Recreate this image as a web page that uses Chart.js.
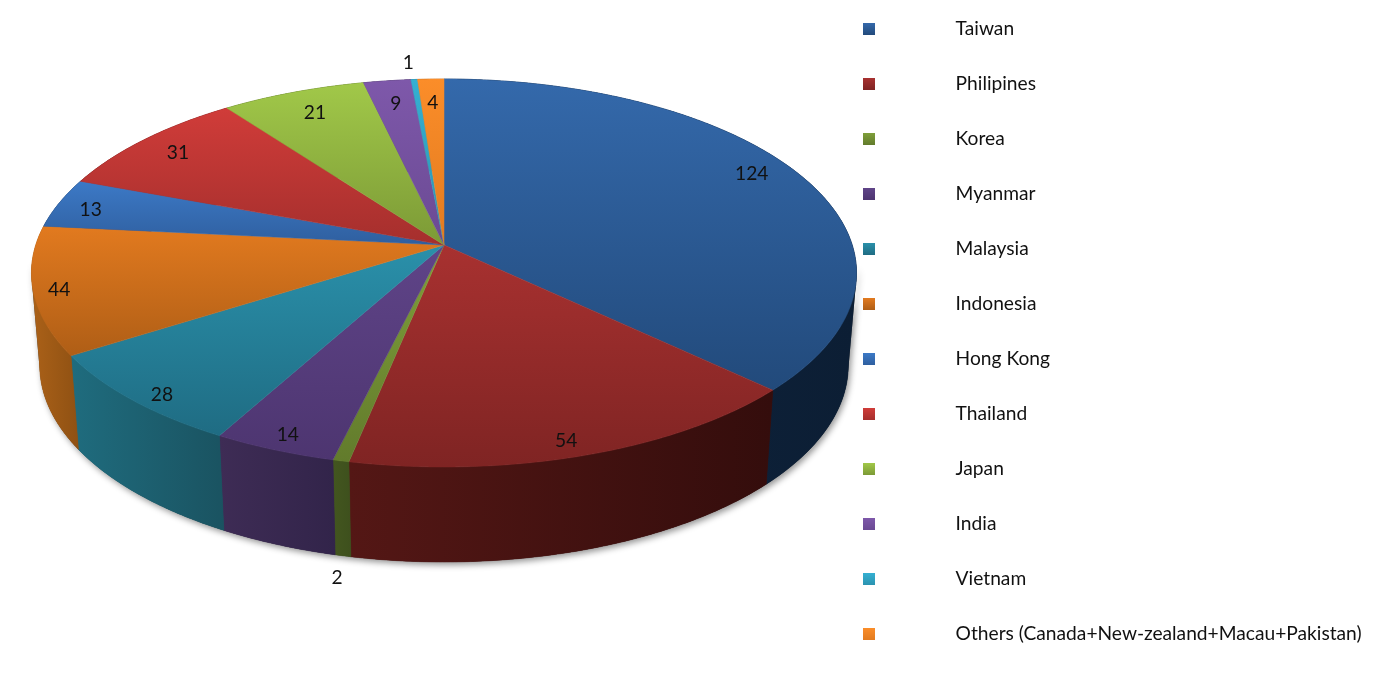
<!DOCTYPE html>
<html><head><meta charset="utf-8">
<style>html,body{margin:0;padding:0;background:#fff;overflow:hidden}#wrap{width:1400px;height:679px;position:relative}</style>
<script src="https://cdn.jsdelivr.net/npm/chart.js@4"></script>
</head><body><div id="wrap"><canvas id="c" width="1400" height="679"></canvas></div>
<script>
const categories = ['Taiwan','Philipines','Korea','Myanmar','Malaysia','Indonesia','Hong Kong','Thailand','Japan','India','Vietnam','Others (Canada+New-zealand+Macau+Pakistan)'];
const values = [124,54,2,14,28,44,13,31,21,9,1,4];
const topLight = ['#3469ab','#a83130','#7f9f3a','#5f4488','#2a90aa','#e27a1f','#3c79c6','#d03c39','#a1c849','#7e58aa','#35b0d2','#fb8d29'];
const topDark  = ['#224a7b','#7f2423','#627b2c','#4d3570','#1f6c83','#af5e16','#2f5f9f','#a52f2d','#7c9a36','#6a4a93','#2b93b0','#e27b20'];
const wallLight = ['#0f2540','#541715','#43561f','#3e2c55','#1f6c7e','#ab6118','#1f3f66','#6a1b1a','#4f6522','#3d2c55','#1c6478','#a85f18'];
const wallDark  = ['#0c1e34','#340d0c','#3e501d','#32244a','#1a5361','#8f5113','#1f3f66','#6a1b1a','#4f6522','#3d2c55','#1c6478','#a85f18'];
const legendFont = 'Lato';
const fontSize = 19.2;

// view of the tilted disc (top face, perspective projection of the unit circle)
const view = {cx:444, cy:245, a:189.96, b:408.2, k:-0.1443, depth:92, shrink:0.98};
// Small correction between data angle and drawn angle in the 3D view (degrees)
const angleIn  = [0,64.7,129.4,157.6,185.7,187.8,202.4,217,231.7,277.6,291,323.5,345.4,354.8,360];
const angleOut = [0,63,133.5,163.7,191.5,193.5,208.7,221.5,237.5,275.8,290.5,323.6,347,354.7,360];
function warp(d){
  for(let i=1;i<angleIn.length;i++){
    if(d<=angleIn[i]){const t=(d-angleIn[i-1])/(angleIn[i]-angleIn[i-1]);return angleOut[i-1]+t*(angleOut[i]-angleOut[i-1]);}
  }
  return d;
}
function proj(deg,r,lower){
  const th=warp(deg)*Math.PI/180, u=Math.sin(th)*r, v=-Math.cos(th)*r;
  const w=1+view.k*v; let x=view.b*u/w, y=view.a*v/w;
  if(lower){x*=view.shrink; y=y+view.depth+(v>0?v*3:0);}
  return [view.cx+x, view.cy+y];
}
const toDeg = a => ((a+Math.PI/2)*180/Math.PI);

const pie3d = {
  id:'pie3d',
  beforeLayout(chart){
    const lg=chart.legend;
    if(lg && !lg._tall){
      lg._tall=true;
      const orig=lg._fitCols;
      lg._fitCols=function(){const m=this.maxHeight;this.maxHeight=2000;const r=orig.apply(this,arguments);this.maxHeight=m;return r;};
    }
  },
  afterLayout(chart){
    const lg=chart.legend, pad=lg.options.labels.padding;
    lg.left=863-pad; lg.top=29-fontSize/2-pad; lg.bottom=2000;
  },
  beforeDatasetsDraw(chart){
    const ctx=chart.ctx, arcs=chart.getDatasetMeta(0).data;
    const slices=arcs.map((arc,i)=>{const p=arc.getProps(['startAngle','endAngle'],true);return {i,s:toDeg(p.startAngle),e:toDeg(p.endAngle)};});
    const rim=(s,e,lower)=>{const pts=[];const n=Math.max(2,Math.ceil((e-s)/0.5));for(let j=0;j<=n;j++)pts.push(proj(s+(e-s)*j/n,1,lower));return pts;};
    const sweep=(s,e)=>{ // every upright strip of the wall, all wound the same way, so the silhouette is filled
      const u=rim(s,e,false), l=rim(s,e,true);
      ctx.beginPath();
      for(let j=0;j<u.length-1;j++){
        let q=[u[j],u[j+1],l[j+1],l[j]], area=0;
        q.forEach((a,n)=>{const b=q[(n+1)%4];area+=a[0]*b[1]-b[0]*a[1];});
        if(area<0) q=q.reverse();
        q.forEach((a,n)=>n?ctx.lineTo(a[0],a[1]):ctx.moveTo(a[0],a[1]));
        ctx.closePath();
      }
    };
    // soft shadow under the front of the disc
    ctx.save();
    ctx.shadowColor='rgba(0,0,0,0.42)';ctx.shadowBlur=6;ctx.shadowOffsetX=2;ctx.shadowOffsetY=3;
    ctx.fillStyle='#444';sweep(95,265);ctx.fill();
    ctx.restore();
    // walls
    slices.forEach(sl=>{
      const up=rim(sl.s,sl.e,false), lo=rim(sl.s,sl.e,true).reverse();
      const all=up.concat(lo), xs=all.map(p=>p[0]);
      const g=ctx.createLinearGradient(Math.min(...xs),0,Math.max(...xs),0);
      g.addColorStop(0,wallLight[sl.i]);
      g.addColorStop(1,wallDark[sl.i]);
      ctx.fillStyle=g;ctx.strokeStyle=g;ctx.lineWidth=0.5;
      ctx.beginPath();all.forEach((p,j)=>j?ctx.lineTo(p[0],p[1]):ctx.moveTo(p[0],p[1]));ctx.closePath();ctx.fill();ctx.stroke();
      sweep(sl.s,sl.e);ctx.fill();
    });
    // top faces
    slices.forEach(sl=>{
      const pts=rim(sl.s,sl.e,false);
      const c=[view.cx,view.cy], ys=pts.map(p=>p[1]).concat(c[1]);
      const g=ctx.createLinearGradient(0,Math.min(...ys),0,Math.max(...ys));
      g.addColorStop(0,topLight[sl.i]);g.addColorStop(1,topDark[sl.i]);
      ctx.fillStyle=g;ctx.strokeStyle=g;ctx.lineWidth=0.5;
      ctx.beginPath();ctx.moveTo(c[0],c[1]);pts.forEach(p=>ctx.lineTo(p[0],p[1]));ctx.closePath();ctx.fill();ctx.stroke();
    });
    // value labels
    ctx.fillStyle='#111';ctx.font=fontSize+'px '+legendFont;ctx.textAlign='center';ctx.textBaseline='middle';
    slices.forEach(sl=>{
      const m=(sl.s+sl.e)/2, v=-Math.cos(warp(m)*Math.PI/180);
      let p, dy=0;
      if(values[sl.i]<=2){
        p = v>0 ? proj(m,1,true) : proj(m,1,false);
        p=[p[0]-6, p[1]+(v>0?22:-17)];
      } else { p=proj(m,0.93+0.05*v-0.055*v*v,false); dy = v<0 ? 2-6*v*v+1.5 : 2; }
      ctx.fillText(String(values[sl.i]),p[0],p[1]+dy);
    });
    return false;
  }
};

function marker(i){
  const c=document.createElement('canvas');c.width=83;c.height=12;
  const x=c.getContext('2d'),g=x.createLinearGradient(0,0,0,12);
  g.addColorStop(0,topLight[i]);g.addColorStop(1,topDark[i]);
  x.fillStyle=g;x.fillRect(0,0,12,12);
  return c;
}

new Chart(document.getElementById('c'),{
  type:'pie',
  data:{labels:categories,datasets:[{data:values,backgroundColor:topLight,borderWidth:0}]},
  plugins:[pie3d],
  options:{
    responsive:false,animation:false,
    plugins:{
      tooltip:{enabled:false},
      legend:{
        position:'right',align:'start',
        labels:{
          usePointStyle:true,pointStyleWidth:83,padding:55-fontSize,color:'#111',
          font:{family:legendFont,size:fontSize},
          generateLabels(){
            return categories.map((t,i)=>({text:t,pointStyle:marker(i),fontColor:'#111',index:i,hidden:false,lineWidth:0,strokeStyle:'transparent',fillStyle:topLight[i]}));
          }
        }
      }
    }
  }
});
</script></body></html>
